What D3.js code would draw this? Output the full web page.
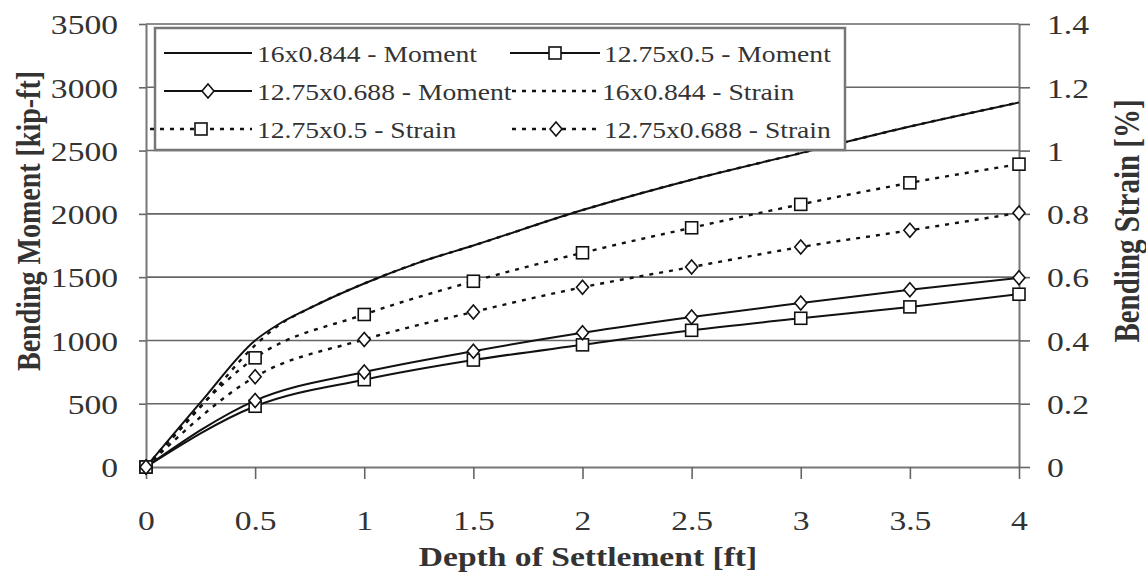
<!DOCTYPE html>
<html>
<head>
<meta charset="utf-8">
<script src="https://cdn.jsdelivr.net/npm/d3@7"></script>
<style>
  body { margin: 0; background: #fff; }
  text { font-family: "Liberation Serif", "Times New Roman", serif; fill: #333; }
</style>
</head>
<body>
<div id="chart"></div>
<script>
// depth of settlement [ft]
const depth = [0, 0.5, 1, 1.5, 2, 2.5, 3, 3.5, 4];
const depthFine = [0, 0.25, 0.5, 0.6, 0.75, 1, 1.25, 1.5, 2, 2.5, 3, 3.5, 4];

// bending moment [kip-ft]
const moment16 = [0, 510, 1000, 1120, 1255, 1450, 1615, 1750, 2030, 2270, 2480, 2690, 2880];
const moment1275_05 = [0, 480, 690, 845, 965, 1080, 1175, 1265, 1365];
const moment1275_0688 = [0, 525, 750, 915, 1060, 1185, 1295, 1400, 1495];

// bending strain [%]
const strain16 = [0, 0.19, 0.385, 0.444, 0.502, 0.58, 0.646, 0.70, 0.812, 0.908, 0.992, 1.076, 1.152];
const strain1275_05 = [0, 0.345, 0.482, 0.587, 0.677, 0.756, 0.830, 0.898, 0.957];
const strain1275_0688 = [0, 0.285, 0.403, 0.490, 0.568, 0.632, 0.695, 0.748, 0.803];

const xTicks = [0, 0.5, 1, 1.5, 2, 2.5, 3, 3.5, 4];
const yLeftTicks = [0, 500, 1000, 1500, 2000, 2500, 3000, 3500];
const yRightTicks = [0, 0.2, 0.4, 0.6, 0.8, 1, 1.2, 1.4];

const series = [
  { name: "16x0.844 - Moment", xs: depthFine, ys: moment16, axis: "left", dash: null, marker: null },
  { name: "12.75x0.5 - Moment", xs: depth, ys: moment1275_05, axis: "left", dash: null, marker: "square" },
  { name: "12.75x0.688 - Moment", xs: depth, ys: moment1275_0688, axis: "left", dash: null, marker: "diamond" },
  { name: "16x0.844 - Strain", xs: depthFine, ys: strain16, axis: "right", dash: "4,6", marker: null },
  { name: "12.75x0.5 - Strain", xs: depth, ys: strain1275_05, axis: "right", dash: "4,6", marker: "square" },
  { name: "12.75x0.688 - Strain", xs: depth, ys: strain1275_0688, axis: "right", dash: "4,6", marker: "diamond" }
];

const W = 1146, H = 577;
const SX = 1.2; // the original picture is stretched sideways
const plotL = 146, plotR = 1019, plotT = 24, plotB = 467;

const svg = d3.select("#chart").append("svg")
  .attr("width", W)
  .attr("height", H);

const x = d3.scaleLinear().domain([0, 4]).range([plotL, plotR]);
const yL = d3.scaleLinear().domain([0, 3500]).range([plotB, plotT]);
const yR = d3.scaleLinear().domain([0, 1.4]).range([plotB, plotT]);

// gridlines
svg.append("g")
  .selectAll("line")
  .data(yLeftTicks.slice(1))
  .enter()
  .append("line")
  .attr("x1", plotL)
  .attr("x2", plotR)
  .attr("y1", d => yL(d))
  .attr("y2", d => yL(d))
  .attr("stroke", "#666")
  .attr("stroke-width", 1.6);

function styleAxis(g) {
  g.select(".domain").attr("stroke", "#777").attr("stroke-width", 2);
  g.selectAll(".tick line").attr("stroke", "#666").attr("stroke-width", 1.6);
  g.selectAll(".tick text")
    .attr("font-size", 28)
    .attr("fill", "#333")
    .attr("font-family", "Liberation Serif, serif");
}

// left axis
const gL = svg.append("g")
  .attr("transform", `translate(${plotL},0)`)
  .call(d3.axisLeft(yL).tickValues(yLeftTicks).tickSize(7).tickSizeOuter(0).tickFormat(d3.format("d")));
styleAxis(gL);
gL.selectAll(".tick text")
  .attr("x", 0)
  .attr("dy", "0.35em")
  .attr("transform", `translate(-28,0) scale(${SX},1)`);

// right axis
const gR = svg.append("g")
  .attr("transform", `translate(${plotR},0)`)
  .call(d3.axisRight(yR).tickValues(yRightTicks).tickSize(11).tickSizeOuter(0).tickFormat(d => d3.format("~g")(d)));
styleAxis(gR);
gR.selectAll(".tick text")
  .attr("x", 0)
  .attr("dy", "0.35em")
  .attr("transform", `translate(28,0) scale(${SX},1)`);

// bottom axis
const gB = svg.append("g")
  .attr("transform", `translate(0,${plotB})`)
  .call(d3.axisBottom(x).tickValues(xTicks).tickSize(12).tickSizeOuter(0).tickFormat(d => d3.format("~g")(d)));
styleAxis(gB);
gB.selectAll(".tick text")
  .attr("y", 0)
  .attr("dy", 0)
  .attr("transform", `translate(0,63) scale(${SX},1)`);

// axis titles
svg.append("text")
  .attr("transform", `translate(40,221) scale(${SX},1) rotate(-90)`)
  .attr("text-anchor", "middle")
  .attr("font-size", 28)
  .attr("font-weight", "bold")
  .text("Bending Moment [kip-ft]");

svg.append("text")
  .attr("transform", `translate(1139,221) scale(${SX},1) rotate(-90)`)
  .attr("text-anchor", "middle")
  .attr("font-size", 29)
  .attr("font-weight", "bold")
  .text("Bending Strain [%]");

svg.append("text")
  .attr("transform", `translate(588,566) scale(${SX},1)`)
  .attr("text-anchor", "middle")
  .attr("font-size", 28)
  .attr("font-weight", "bold")
  .text("Depth of Settlement [ft]");

function drawMarker(g, type, cx, cy) {
  if (type === "square") {
    g.append("rect")
      .attr("x", cx - 6).attr("y", cy - 6)
      .attr("width", 12).attr("height", 12)
      .attr("fill", "#fff").attr("stroke", "#111").attr("stroke-width", 1.6);
  } else if (type === "diamond") {
    g.append("path")
      .attr("d", `M${cx},${cy - 7}L${cx + 6},${cy}L${cx},${cy + 7}L${cx - 6},${cy}Z`)
      .attr("fill", "#fff").attr("stroke", "#111").attr("stroke-width", 1.6);
  }
}

// series lines
const plot = svg.append("g");
series.forEach(s => {
  const yS = s.axis === "left" ? yL : yR;
  const pts = d3.zip(s.xs, s.ys);
  const line = d3.line()
    .x(d => x(d[0]))
    .y(d => yS(d[1]))
    .curve(d3.curveMonotoneX);
  plot.append("path")
    .datum(pts)
    .attr("d", line)
    .attr("fill", "none")
    .attr("stroke", "#111")
    .attr("stroke-width", s.dash ? 2.4 : 2)
    .attr("stroke-dasharray", s.dash);
  if (s.marker) {
    pts.forEach(p => drawMarker(plot, s.marker, x(p[0]), yS(p[1])));
  }
});

// legend
const lg = svg.append("g");
lg.append("rect")
  .attr("x", 155).attr("y", 28)
  .attr("width", 690).attr("height", 122)
  .attr("fill", "#fff")
  .attr("stroke", "#777")
  .attr("stroke-width", 2.5);

const legendPos = [
  { lx1: 164, lx2: 252, tx: 257, ty: 62 },
  { lx1: 510, lx2: 600, tx: 604, ty: 62 },
  { lx1: 164, lx2: 252, tx: 257, ty: 100 },
  { lx1: 512, lx2: 598, tx: 602, ty: 100 },
  { lx1: 150, lx2: 252, tx: 257, ty: 138 },
  { lx1: 512, lx2: 600, tx: 604, ty: 138 }
];

series.forEach((s, i) => {
  const p = legendPos[i];
  const ly = p.ty - 9;
  lg.append("line")
    .attr("x1", p.lx1).attr("x2", p.lx2)
    .attr("y1", ly).attr("y2", ly)
    .attr("stroke", "#111")
    .attr("stroke-width", s.dash ? 2.4 : 2)
    .attr("stroke-dasharray", s.dash);
  if (s.marker) drawMarker(lg, s.marker, (p.lx1 + p.lx2) / 2, ly);
  lg.append("text")
    .attr("transform", `translate(${p.tx},${p.ty}) scale(${SX},1)`)
    .attr("font-size", 23)
    .text(s.name);
});
</script>
</body>
</html>
